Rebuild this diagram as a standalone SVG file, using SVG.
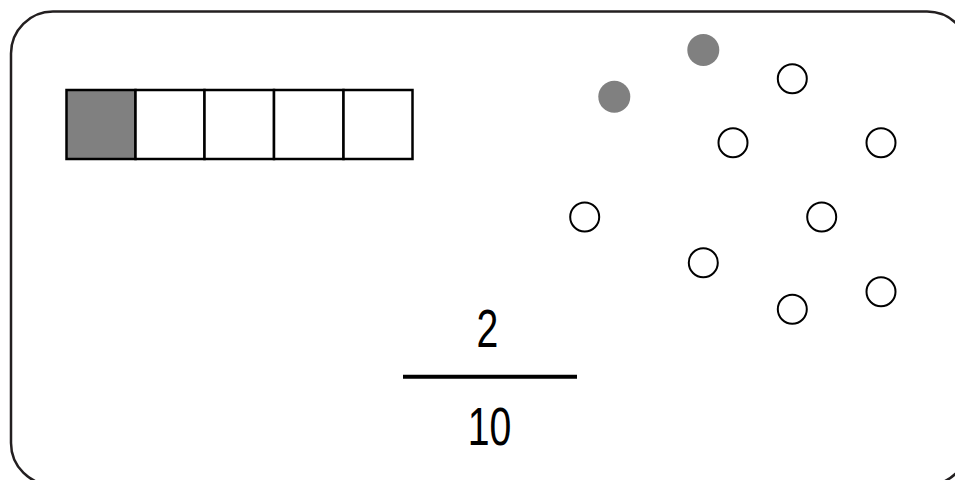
<svg xmlns="http://www.w3.org/2000/svg" width="955" height="480" viewBox="0 0 955 480">
<style>
.frame{fill:none;stroke:#231f20;stroke-width:2.5}
.cell{fill:#ffffff;stroke:#000;stroke-width:2.5}
.shade{fill:#808080}
.dot{fill:#808080}
.ring{fill:#ffffff;stroke:#000;stroke-width:2}
.num{font-family:"Liberation Sans",Arial,sans-serif;font-size:53px;fill:#000;text-anchor:middle}
</style>
<rect width="955" height="480" fill="#ffffff"/>
<rect class="frame" x="11" y="11.5" width="958" height="473.5" rx="42" ry="42"/>
<g id="bar">
<rect class="cell shade" x="66.5" y="90" width="69" height="69"/>
<rect class="cell" x="135.5" y="90" width="69" height="69"/>
<rect class="cell" x="204.5" y="90" width="69.5" height="69"/>
<rect class="cell" x="274" y="90" width="69.5" height="69"/>
<rect class="cell" x="343.5" y="90" width="69" height="69"/>
</g>
<g id="dots">
<circle class="dot" cx="703.3" cy="50" r="16"/>
<circle class="dot" cx="614.3" cy="96.7" r="16"/>
<circle class="ring" cx="792.3" cy="78.7" r="14.5"/>
<circle class="ring" cx="733" cy="142.7" r="14.5"/>
<circle class="ring" cx="881" cy="142.7" r="14.5"/>
<circle class="ring" cx="584.7" cy="217" r="14.5"/>
<circle class="ring" cx="821.7" cy="217" r="14.5"/>
<circle class="ring" cx="703.3" cy="262.7" r="14.5"/>
<circle class="ring" cx="792.3" cy="309.3" r="14.5"/>
<circle class="ring" cx="881" cy="291.7" r="14.5"/>
</g>
<g id="fraction">
<text class="num" transform="translate(487.5,347) scale(0.74,1)">2</text>
<line x1="403" y1="376.7" x2="577" y2="376.7" stroke="#000" stroke-width="4"/>
<text class="num" transform="translate(489.5,445) scale(0.74,1)">10</text>
</g>
</svg>
